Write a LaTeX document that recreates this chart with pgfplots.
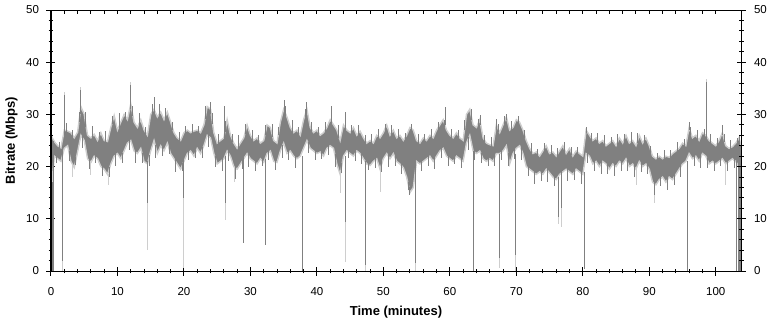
\documentclass[border=0pt]{standalone}
\usepackage{fontspec}
\setmainfont{Liberation Sans}
\usepackage{pgfplots}
\pgfplotsset{compat=1.18}
\usepackage{pgfplotstable}
\usepgfplotslibrary{fillbetween}
\definecolor{dgray}{RGB}{128,128,128}
\definecolor{lgray}{RGB}{206,206,206}

\pgfplotstableread{
t lo hi
0 15 26
0.5 22.0 24.8
1.0 21.5 24.0
1.5 21.0 23.6
2.0 23.5 27.0
2.5 24.0 26.8
3.0 21.0 26.5
3.5 19.8 25.5
4.0 22.8 26.6
4.5 26.0 31.5
5.0 25.0 30.0
5.5 21.5 26.0
6.0 20.8 25.5
6.5 22.0 26.2
7.0 21.5 25.0
7.5 20.0 26.5
8.0 19.5 25.0
8.5 18.5 24.8
9.0 20.5 27.5
9.5 22.0 29.8
10.0 22.5 27.0
10.5 21.5 28.5
11.0 23.0 30.0
11.5 24.5 29.0
12.0 25.0 32.0
12.5 23.0 28.5
13.0 22.5 27.5
13.5 23.5 29.0
14.0 21.0 27.0
14.5 20.5 26.0
15.0 23.0 30.0
15.5 25.0 31.0
16.0 22.5 29.5
16.5 24.0 30.5
17.0 23.0 29.0
17.5 24.5 30.5
18.0 22.5 28.5
18.5 21.5 26.5
19.0 20.5 25.5
19.5 19.5 25.0
20.0 21.0 26.5
20.5 22.5 27.0
21.0 23.0 26.5
21.5 22.0 26.8
22.0 23.5 27.0
22.5 22.5 26.5
23.0 24.0 28.0
23.5 26.0 31.5
24.0 25.5 31.0
24.5 22.5 26.5
25.0 20.5 24.5
25.5 21.0 25.0
26.0 21.5 25.5
26.5 23.0 29.0
27.0 22.0 26.0
27.5 20.0 24.5
28.0 19.5 23.5
28.5 20.5 24.5
29.0 21.5 25.5
29.5 22.5 28.0
30.0 21.5 26.0
30.5 21.0 25.0
31.0 20.5 25.5
31.5 21.5 24.5
32.0 20.8 25.0
32.5 22.5 28.0
33.0 23.0 27.5
33.5 21.0 25.0
34.0 20.8 24.5
34.5 23.0 28.5
35.0 24.5 31.0
35.5 22.5 29.5
36.0 23.0 27.5
36.5 22.0 26.5
37.0 21.5 27.0
37.5 22.0 26.0
38.0 23.5 29.0
38.5 25.0 31.0
39.0 23.5 27.5
39.5 23.0 26.5
40.0 22.5 27.0
40.5 22.8 26.0
41.0 22.0 26.5
41.5 23.5 27.5
42.0 24.0 29.0
42.5 23.5 28.0
43.0 20.5 27.0
43.5 18.5 25.0
44.0 22.0 28.0
44.5 23.0 27.0
45.0 22.5 26.5
45.5 22.0 27.5
46.0 23.0 26.0
46.5 22.5 26.8
47.0 21.5 25.5
47.5 20.5 24.5
48.0 20.2 25.0
48.5 21.0 24.5
49.0 21.5 26.0
49.5 19.5 25.5
50.0 21.5 26.5
50.5 22.5 28.0
51.0 21.5 26.0
51.5 22.5 27.0
52.0 21.0 25.5
52.5 20.5 26.0
53.0 19.8 25.0
53.5 18.0 26.0
54.0 15.0 27.5
54.5 16.0 27.0
55.0 21.0 25.0
55.5 20.5 24.5
56.0 21.0 25.5
56.5 21.5 25.0
57.0 22.0 26.0
57.5 21.0 25.5
58.0 22.0 27.0
58.5 23.0 28.0
59.0 23.5 29.0
59.5 22.0 27.0
60.0 21.5 26.0
60.5 21.0 25.5
61.0 22.0 26.5
61.5 21.5 25.5
62.0 21.0 25.0
62.5 24.5 30.0
63.0 26.0 31.0
63.5 23.0 28.0
64.0 22.5 27.5
64.5 23.0 29.0
65.0 21.5 25.5
65.5 21.0 24.5
66.0 21.5 24.2
66.5 21.0 24.0
67.0 22.5 28.0
67.5 22.5 26.5
68.0 23.0 28.0
68.5 24.0 29.5
69.0 20.5 27.0
69.5 22.5 27.5
70.0 23.5 29.0
70.5 24.0 28.5
71.0 22.5 27.0
71.5 20.0 25.0
72.0 19.5 23.5
72.5 19.0 22.5
73.0 18.5 22.8
73.5 19.0 22.0
74.0 18.5 23.0
74.5 19.5 24.0
75.0 18.8 22.5
75.5 18.0 22.8
76.0 17.5 22.0
76.5 18.5 23.0
77.0 19.0 24.0
77.5 19.5 22.5
78.0 19.0 23.5
78.5 18.5 22.0
79.0 19.5 23.0
79.5 19.0 22.5
80.0 18.5 22.0
80.5 22.5 27.0
81.0 22.0 26.0
81.5 20.5 25.0
82.0 21.0 25.5
82.5 20.0 24.5
83.0 21.0 25.0
83.5 20.5 24.0
84.0 19.5 24.5
84.5 20.5 25.0
85.0 20.0 24.0
85.5 21.0 25.5
86.0 20.5 24.5
86.5 21.5 26.0
87.0 20.0 24.5
87.5 20.5 25.0
88.0 19.5 24.0
88.5 21.0 26.0
89.0 20.0 24.5
89.5 20.5 25.5
90.0 19.5 24.0
90.5 17.0 22.0
91.0 16.5 21.5
91.5 17.5 22.0
92.0 18.0 21.5
92.5 17.0 22.0
93.0 18.0 21.8
93.5 17.5 22.5
94.0 18.5 23.0
94.5 19.5 23.5
95.0 20.5 24.5
95.5 21.0 24.0
96.0 22.5 27.5
96.5 21.5 25.5
97.0 22.0 26.0
97.5 21.0 25.0
98.0 22.5 26.5
98.5 22.0 26.0
99.0 20.5 25.0
99.5 21.0 24.5
100.0 20.5 24.0
100.5 21.0 25.0
101.0 21.5 26.5
101.5 20.5 24.0
102.0 21.0 23.5
102.5 21.5 23.8
103.0 21.0 24.5
103.5 20.0 25.5
103.8 20.0 24.0
}\band

% upward whiskers: time, base, length
\pgfplotstableread{
t b p
1.25 23.3 1.5
2.25 26.4 2
3.25 25.5 1.5
4.25 28.5 2
5.25 27.5 3
6.25 25.3 2.5
7.25 25.2 1.5
8.25 24.4 2.5
9.25 28.1 1.5
10.25 27.2 3
11.25 29.0 1.5
12.25 29.7 2
13.25 27.7 2.5
14.25 26.0 1.5
15.25 30.0 2
16.25 29.5 2.5
17.25 29.2 2
18.25 27.0 1.5
19.25 24.7 2
20.25 26.2 1.5
21.25 26.1 2
22.25 26.2 1.5
23.25 29.2 2.5
24.25 28.2 2
25.25 24.2 2
26.25 26.7 2
27.25 24.7 1.5
28.25 23.5 2.5
29.25 26.2 2
30.25 25.0 2
31.25 24.5 1.5
32.25 26.0 2
33.25 25.7 2.5
34.25 26.0 1.5
35.25 29.7 2
36.25 26.5 2.5
37.25 26.0 1.5
38.25 29.5 1.5
39.25 26.5 2
40.25 26.0 1.5
41.25 26.5 2
42.25 28.0 1.5
43.25 25.5 2.5
45.25 26.5 1.5
46.25 25.9 2
47.25 24.5 1.5
48.25 24.2 2
49.25 25.2 2
50.25 26.7 1.5
51.25 26.0 2
52.25 25.2 2
53.25 25.0 1.5
54.25 26.7 1.5
55.25 24.2 2
56.25 24.7 1.5
57.25 25.2 2
58.25 27.0 1.5
59.25 27.5 1.5
60.25 25.2 2
61.25 25.5 1.5
62.25 27.0 2
63.25 29.0 2
64.25 27.7 1.5
65.25 24.5 1.5
66.25 23.6 2
67.25 26.7 1.5
68.25 28.2 1.5
69.25 26.7 2
70.25 28.2 1.5
71.25 25.5 1.5
72.25 22.5 2
73.25 21.9 1.5
74.25 23.0 1.5
75.25 22.1 2
76.25 22.0 1.5
77.25 22.7 2
78.25 22.2 1.5
79.25 22.2 1.5
80.5 26.5 1.1
81.25 25.0 1.5
82.25 24.5 2
83.25 24.0 2
84.25 24.2 1.5
85.25 24.2 2
86.25 24.7 1.5
87.25 24.2 2.5
88.25 24.5 2
89.25 24.5 1.5
90.25 22.5 1.5
91.25 21.2 1.5
92.25 21.2 2
93.25 21.6 1.5
94.25 22.7 2
95.25 23.7 1.5
96.25 26.0 1.5
97.25 25.0 2
98.25 25.7 1.5
99.25 24.2 2
100.25 24.0 1.5
101.25 24.7 1.5
102.25 23.1 2
103.25 24.5 1
}\upw

% downward whiskers: time, base, length
\pgfplotstableread{
t b m
0.75 22.2 1.5
2.75 23.0 2
3.75 21.8 1.5
4.75 26.0 2.5
5.75 21.6 2
6.75 22.2 1.5
7.75 20.2 2
8.75 20.0 2
9.75 22.7 2.5
10.75 22.7 2
11.75 25.2 2
12.75 23.2 2.5
13.75 22.7 2
14.75 22.2 2
15.75 24.2 2.5
16.75 24.0 2
17.75 24.0 1.5
18.75 21.5 2.5
19.75 20.7 1.5
20.75 23.2 2
21.75 23.2 1.5
22.75 23.7 2
23.75 26.2 2.5
24.75 22.0 2
25.75 21.7 2.5
26.75 23.0 2
27.75 20.2 2.5
28.75 21.5 2
29.75 22.5 2.5
30.75 21.2 2
31.75 21.6 1.5
32.75 23.2 2
33.75 21.4 2
34.75 24.2 2.5
35.75 23.2 2
36.75 22.2 2.5
38.75 24.7 2
39.75 23.2 2
40.75 22.9 1.5
41.75 24.2 2
42.75 22.5 2.5
43.75 20.7 2
44.75 23.2 1.5
45.75 23.0 2
46.75 22.5 2
47.75 20.8 1.5
48.75 21.7 2
49.75 21.0 2
50.75 22.5 2.5
51.75 22.2 2
52.75 20.6 2
53.75 17.0 1.5
55.75 21.2 2
56.75 22.2 2
57.75 22.0 2.5
58.75 23.7 2
59.75 22.2 2
60.75 22.0 1.5
61.75 21.7 2
62.75 25.7 2.5
63.75 23.2 2
64.75 22.7 2
65.75 21.7 1.5
66.75 22.2 2
67.75 23.2 2
68.75 22.7 2.5
69.75 23.5 2
70.75 23.7 2.5
71.75 20.2 2
72.75 19.2 2.5
73.75 19.2 2
74.75 19.6 2.5
75.75 18.2 2
76.75 19.2 2.5
77.75 19.7 2.5
78.75 19.5 2
79.75 19.2 2.5
80.75 22.7 2
81.75 21.2 2
82.75 21.0 2.5
83.75 20.5 2
84.75 20.7 2.5
85.75 21.2 2
86.75 21.2 2
87.75 20.5 2.5
88.75 21.0 2
89.75 20.5 2
91.75 18.2 2
92.75 18.0 2.5
93.75 18.5 2
94.75 20.5 2.5
96.75 22.2 2
97.75 22.2 2.5
98.75 21.7 2
99.75 21.2 2
100.75 21.7 1.5
101.75 21.2 2
102.75 21.7 2
}\downw

\pgfplotstableread{
t y
1.8 2
1.8 0
1.8 nan
2.0 33.5
2.0 34.3
2.0 nan
4.5 34.5
4.5 35.2
4.5 nan
12.0 35.5
12.0 36.2
12.0 nan
3.2 20.5
3.2 18.0
3.2 nan
6.0 21.0
6.0 18.3
6.0 nan
8.6 18.5
8.6 16.4
8.6 nan
14.5 13
14.5 4
14.5 nan
20.0 14
20.0 0.5
20.0 nan
26.2 13
26.2 9.8
26.2 nan
27.6 20
27.6 17
27.6 nan
43.6 18.5
43.6 15
43.6 nan
44.3 9.4
44.3 1.7
44.3 nan
47.3 1.1
47.3 0
47.3 nan
49.5 19.5
49.5 15.1
49.5 nan
54.9 1.5
54.9 0
54.9 nan
67.4 2.5
67.4 0.6
67.4 nan
69.9 3
69.9 0
69.9 nan
76.3 10.3
76.3 9
76.3 nan
76.8 12
76.8 8.4
76.8 nan
88.1 19.5
88.1 16.4
88.1 nan
90.8 14.5
90.8 13
90.8 nan
101.5 20.5
101.5 16.4
101.5 nan
103.05 20
103.05 0
103.05 nan
98.6 36.2
98.6 36.8
98.6 nan
}\lspk

\pgfplotstableread{
t y
0.05 26
0.05 0
0.05 nan
0.15 24
0.15 0
0.15 nan
0.25 17
0.25 0
0.25 nan
0.35 25
0.35 0
0.35 nan
0.45 23.5
0.45 0
0.45 nan
1.8 23
1.8 2
1.8 nan
2.0 26
2.0 33.7
2.0 nan
4.5 30
4.5 34.6
4.5 nan
12.0 31
12.0 35.6
12.0 nan
14.5 21
14.5 13
14.5 nan
15.5 30
15.5 33.3
15.5 nan
20.0 21.5
20.0 14
20.0 nan
24.0 30
24.0 32.4
24.0 nan
26.2 22
26.2 13
26.2 nan
26.1 25
26.1 31.7
26.1 nan
29.0 22
29.0 5.4
29.0 nan
32.3 21.5
32.3 5
32.3 nan
35.2 30
35.2 32.7
35.2 nan
37.8 22
37.8 0
37.8 nan
38.5 30
38.5 32.4
38.5 nan
42.2 28
42.2 31.7
42.2 nan
44.3 22
44.3 9.4
44.3 nan
44.25 27
44.25 30.5
44.25 nan
47.3 21
47.3 1.1
47.3 nan
54.0 16
54.0 14.5
54.0 nan
54.9 21
54.9 1.5
54.9 nan
59.4 28
59.4 31.4
59.4 nan
63.6 23
63.6 0
63.6 nan
64.6 28
64.6 29.8
64.6 nan
67.0 27
67.0 29.2
67.0 nan
67.4 22.5
67.4 2.5
67.4 nan
68.5 29
68.5 30.1
68.5 nan
69.9 22.5
69.9 3
69.9 nan
76.3 18
76.3 10.3
76.3 nan
76.8 18.5
76.8 12
76.8 nan
80.2 19
80.2 0.4
80.2 nan
90.8 17
90.8 14.5
90.8 nan
95.7 21
95.7 0
95.7 nan
96.0 27
96.0 28.6
96.0 nan
98.6 25
98.6 36.2
98.6 nan
101.0 26
101.0 27.9
101.0 nan
103.15 21
103.15 0
103.15 nan
103.45 24
103.45 0
103.45 nan
103.6 26
103.6 0
103.6 nan
103.72 22
103.72 0
103.72 nan
}\dspk

\pgfplotsset{
  common/.style={
    scale only axis, width=690pt, height=261pt,
    xmin=0, xmax=103.8, ymin=0, ymax=50,
    at={(0pt,0pt)}, anchor=south west,
    axis line style={black, line width=1pt},
    every tick/.style={black, line width=1pt},
    tick label style={font=\fontsize{11.5}{13}\selectfont},
    /pgf/number format/assume math mode=true,
  }
}

\begin{document}
\begin{tikzpicture}
\begin{axis}[common,
  xtick={0,10,...,100}, minor x tick num=4,
  ytick={0,10,...,50}, minor y tick num=4,
  xtick pos=left, ytick pos=left,
  tick align=center, major tick length=9pt, minor tick length=4.5pt,
  xticklabel style={yshift=-8pt},
  yticklabel style={xshift=-4pt},
  xlabel={Time (minutes)}, ylabel={Bitrate (Mbps)},
  label style={font=\fontsize{13}{15}\selectfont\bfseries},
  xlabel style={at={(axis description cs:0.5,-0.1686)}, anchor=base},
  ylabel style={at={(axis description cs:-0.0522,0.5)}, anchor=base},
]
\addplot[name path=H, lgray, line width=1.4pt] table[x=t,y=hi]{\band};
\addplot[name path=L, lgray, line width=1.4pt] table[x=t,y=lo]{\band};
\addplot[fill=dgray, draw=none] fill between[of=H and L];
\addplot[draw=none, no markers, error bars/.cd, y dir=plus, y explicit, error mark=none,
  error bar style={draw=dgray, line width=0.9pt}] table[x=t, y=b, y error plus=p]{\upw};
\addplot[draw=none, no markers, error bars/.cd, y dir=minus, y explicit, error mark=none,
  error bar style={draw=dgray, line width=0.9pt}] table[x=t, y=b, y error minus=m]{\downw};
\addplot[lgray, line width=1pt, unbounded coords=jump] table[x=t,y=y]{\lspk};
\addplot[dgray, line width=1pt, unbounded coords=jump] table[x=t,y=y]{\dspk};
\end{axis}
\begin{axis}[common,
  xtick=\empty,
  ytick={0,10,...,50}, minor y tick num=4,
  ytick pos=right, yticklabel pos=right,
  yticklabel style={xshift=5pt},
  tick align=center, major tick length=9pt, minor tick length=5pt,
]
\addplot[draw=none] coordinates {(0,0) (103.8,50)};
\end{axis}
\begin{axis}[common,
  ytick=\empty,
  xtick={0,10,...,100}, minor x tick num=4, xticklabels={},
  xtick pos=right,
  tick align=inside, major tick length=4pt, minor tick length=3.5pt,
]
\addplot[draw=none] coordinates {(0,0) (103.8,50)};
\end{axis}
\pgfresetboundingbox
\useasboundingbox (-51pt,-51pt) rectangle (720pt,271pt);
\end{tikzpicture}
\end{document}
